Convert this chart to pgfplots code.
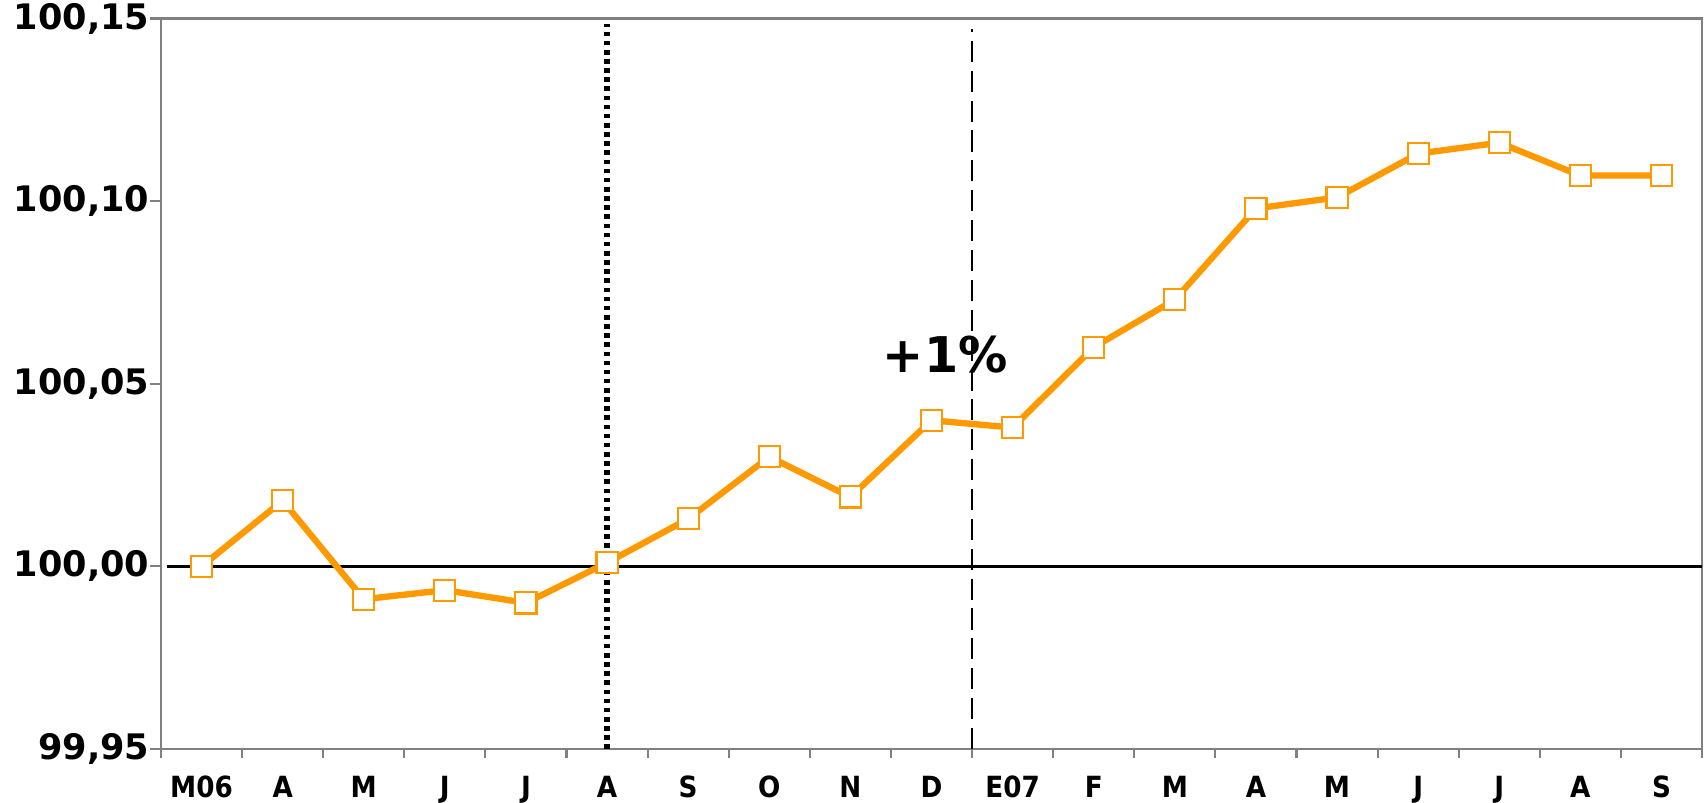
\documentclass[border=0pt]{standalone}
\usepackage{pgfplots}
\pgfplotsset{compat=1.18}
\usepackage{fontspec}
\setmainfont{DejaVu Sans}
\newfontfamily\xfont{DejaVu Sans Condensed}
\definecolor{orng}{HTML}{FF9900}
\definecolor{axgray}{HTML}{808080}
\begin{document}
\begin{tikzpicture}
\begin{axis}[
 at={(0,0)}, anchor=south west,
 scale only axis, width=154.1mm, height=73.05mm,
 xmin=-0.5, xmax=18.5, ymin=99.95, ymax=100.15,
 axis line style={draw=axgray, line width=0.6pt},
 xtick={0,...,18},
 xticklabels={M06,A,M,J,J,A,S,O,N,D,E07,F,M,A,M,J,J,A,S},
 major x tick style={draw=none},
 minor xtick={-0.5,0.5,...,18.5},
 tick align=outside,
 tick pos=left,
 tick style={axgray, line width=0.6pt},
 minor tick length=0.9mm, major tick length=1.1mm,
 ytick={99.95,100,100.05,100.1,100.15},
 yticklabels={{99,95},{100,00},{100,05},{100,10},{100,15}},
 xticklabel style={font=\xfont\bfseries\fontsize{8.3}{9}\selectfont, anchor=base, inner sep=0pt, yshift=-3.7mm},
 yticklabel style={font=\bfseries\fontsize{10}{11}\selectfont, anchor=east, inner sep=0pt, xshift=0mm},
 clip=false,
]
\addplot[black, line width=0.7pt, forget plot] coordinates {(-0.42,100) (18.5,100)};
\addplot[black, line width=1.5pt, dash pattern=on 1.3pt off 1.3pt, forget plot] coordinates {(5,99.95) (5,100.1485)};
\addplot[black, line width=0.45pt, dash pattern=on 6pt off 2.5pt, forget plot] coordinates {(9.5,99.95) (9.5,100.147)};
\addplot[orng, line width=1.8pt, mark=square*, mark size=3pt,
  mark options={fill=white, draw=orng, line width=0.6pt, solid}] coordinates {
 (0,100.000) (1,100.018) (2,99.991) (3,99.9935) (4,99.990) (5,100.001)
 (6,100.013) (7,100.030) (8,100.019) (9,100.040) (10,100.038) (11,100.060)
 (12,100.073) (13,100.098) (14,100.101) (15,100.113) (16,100.116) (17,100.107) (18,100.107)
};
\node[font=\bfseries\fontsize{14}{16}\selectfont] at (axis cs:9.17,100.058) {+1\%};
\end{axis}
\pgfresetboundingbox
\path (-16.1mm,-5.3mm) rectangle (154.6mm,74.9mm);
\end{tikzpicture}
\end{document}
